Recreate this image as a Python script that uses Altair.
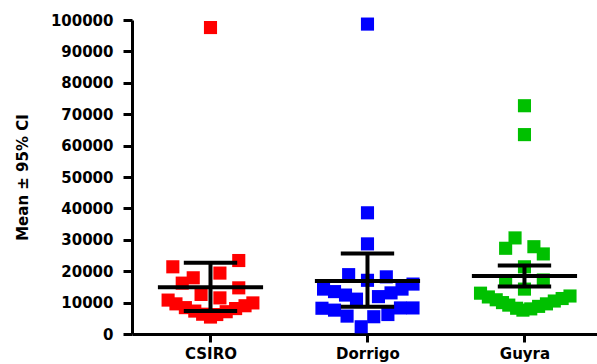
import altair as alt
import pandas as pd

categories = ["CSIRO", "Dorrigo", "Guyra"]
colors = ["#FF0000", "#0000FF", "#00C000"]

# point values and horizontal scatter (fraction of the category spacing)
csiro_values = [97600, 23400, 21400, 19400, 17900, 16200, 14700, 12600, 11500,
                10800, 9600, 8400, 7300, 6300, 5400, 6200, 7100, 8100, 9000, 9900]
csiro_jitter = [0, 0.18, -0.24, 0.06, -0.11, -0.18, 0.18, -0.06, 0.06,
                -0.27, -0.22, -0.16, -0.10, -0.05, 0, 0.04, 0.10, 0.16, 0.22, 0.27]

dorrigo_values = [98700, 38600, 28700, 18900, 18200, 17100, 14300, 13500, 12400, 11100,
                  11900, 13100, 14300, 15900, 8200, 7600, 5700, 2300, 5500, 6200, 8300, 8300]
dorrigo_jitter = [0, 0, 0, -0.12, 0.12, 0, -0.28, -0.21, -0.14, -0.07,
                  0.07, 0.15, 0.22, 0.29, -0.29, -0.21, -0.13, -0.04, 0.04, 0.13, 0.21, 0.29]

guyra_values = [72700, 63500, 30600, 27300, 27800, 25500, 21400, 16900, 17200, 14300,
                13000, 11800, 10900, 10000, 9200, 8200, 7600, 8000, 8800, 9600, 10500, 11300, 12100]
guyra_jitter = [0, 0, -0.06, -0.12, 0.06, 0.12, 0, -0.12, 0.12, 0,
                -0.28, -0.23, -0.18, -0.14, -0.10, -0.05, -0.01, 0.04, 0.09, 0.14, 0.19, 0.24, 0.29]

means = [14900, 16900, 18500]
ci_low = [7300, 8700, 15100]
ci_high = [22700, 25600, 21800]

y_ticks = list(range(0, 100001, 10000))

rows = []
for i, (vals, jit) in enumerate([(csiro_values, csiro_jitter),
                                 (dorrigo_values, dorrigo_jitter),
                                 (guyra_values, guyra_jitter)]):
    for v, j in zip(vals, jit):
        rows.append({"group": categories[i], "xpos": i + 0.5 + j, "value": v})
pts = pd.DataFrame(rows)

summ = pd.DataFrame({
    "group": categories,
    "xc": [i + 0.5 for i in range(3)],
    "mean": means,
    "lo": ci_low,
    "hi": ci_high,
})
summ["m1"] = summ["xc"] - 0.335
summ["m2"] = summ["xc"] + 0.335
summ["c1"] = summ["xc"] - 0.17
summ["c2"] = summ["xc"] + 0.17

FONT = "DejaVu Sans"
label_expr = " : ".join(
    [f"datum.value < {i + 1} ? '{c}'" for i, c in enumerate(categories[:-1])]
) + f" : '{categories[-1]}'"

xscale = alt.Scale(domain=[0, 2.962], nice=False, zero=False)
yscale = alt.Scale(domain=[0, 100000], nice=False)

xaxis = alt.Axis(values=[0.5, 1.5, 2.5], labelExpr=label_expr, grid=False, title=None,
                 domainColor="black", domainWidth=3, tickColor="black", tickWidth=3,
                 tickSize=8, labelFont=FONT, labelFontWeight="bold", labelFontSize=15,
                 labelColor="black", labelPadding=4, labelFlush=False)
yaxis = alt.Axis(values=y_ticks, format="d", grid=False, title="Mean ± 95% CI",
                 domainColor="black", domainWidth=3, tickColor="black", tickWidth=3,
                 tickSize=9, labelFont=FONT, labelFontWeight="bold", labelFontSize=15,
                 labelColor="black", labelPadding=10, labelOverlap=False,
                 titleFont=FONT, titleFontWeight="bold",
                 titleFontSize=15, titleColor="black", titleX=-110, titleBaseline="middle",
                 titleAngle=270)

X = lambda f: alt.X(f, scale=xscale, axis=xaxis)
Y = lambda f: alt.Y(f, scale=yscale, axis=yaxis)

points = alt.Chart(pts).mark_square(size=172, opacity=1, strokeWidth=0).encode(
    x=X("xpos:Q"),
    y=Y("value:Q"),
    color=alt.Color("group:N", scale=alt.Scale(domain=categories, range=colors), legend=None),
)

base = alt.Chart(summ)
mean_line = base.mark_rule(color="black", strokeWidth=4).encode(
    x=X("m1:Q"), x2="m2:Q", y=Y("mean:Q"))
ci_line = base.mark_rule(color="black", strokeWidth=4).encode(
    x=X("xc:Q"), y=Y("lo:Q"), y2="hi:Q")
cap_hi = base.mark_rule(color="black", strokeWidth=4).encode(
    x=X("c1:Q"), x2="c2:Q", y=Y("hi:Q"))
cap_lo = base.mark_rule(color="black", strokeWidth=4).encode(
    x=X("c1:Q"), x2="c2:Q", y=Y("lo:Q"))

chart = alt.layer(points, ci_line, cap_hi, cap_lo, mean_line).properties(
    width=465, height=314,
    autosize=alt.AutoSizeParams(type="none"),
    padding={"left": 132, "top": 20, "right": 0, "bottom": 30},
    background="white",
).configure_view(stroke=None)

chart.save("out.html", embed_options={"renderer": "svg", "actions": False})
